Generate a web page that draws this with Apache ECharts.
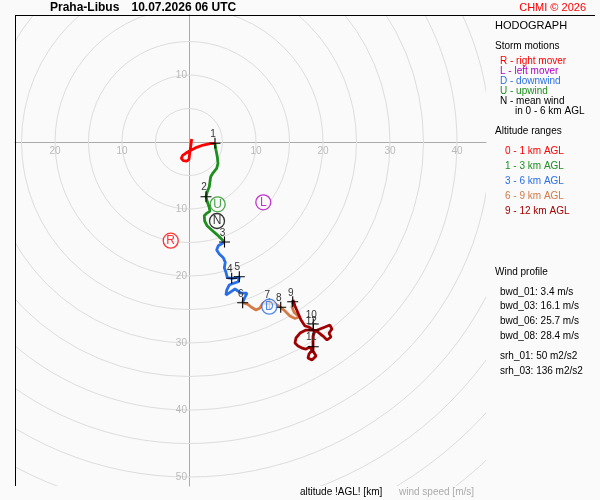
<!DOCTYPE html>
<html>
<head>
<meta charset="utf-8">
<script src="https://cdn.jsdelivr.net/npm/echarts@6/dist/echarts.min.js"></script>
<style>
html,body{margin:0;padding:0;background:#fafafa;}
#chart{width:600px;height:500px;}
</style>
</head>
<body>
<div id="chart"></div>
<script>
// ---- data (u, v in m/s; v positive = up) ----
const ringRadii = [5,10,15,20,25,30,35,40,45,50,55,60,65,70];
const xTickValues = [-20,-10,10,20,30,40];
const yTickValues = [10,-10,-20,-30,-40,-50];

const trace0to1 = [[0.40,0.45],[0.25,-0.70],[0.10,-1.69],[0.00,-2.58],[-0.34,-2.84],[-0.85,-2.79],[-1.15,-2.43],[-0.94,-1.99],[-0.45,-1.64],[0.15,-1.30],[1.15,-0.79],[2.13,-0.45],[3.13,-0.25],[3.88,-0.19]];
const trace1to3 = [[3.88,-0.19],[4.03,-1.19],[4.22,-2.19],[4.33,-3.18],[4.13,-3.93],[3.54,-4.67],[3.24,-5.18],[3.13,-5.93],[3.03,-6.67],[2.73,-7.42],[2.54,-8.16],[2.73,-8.91],[2.99,-9.66],[3.13,-10.30],[2.64,-10.64],[2.28,-11.00],[2.34,-11.79],[2.73,-12.54],[3.39,-13.13],[4.13,-13.78],[5.30,-14.93]];
const trace3to6 = [[5.30,-14.93],[4.37,-15.48],[4.13,-16.12],[4.52,-16.72],[5.12,-17.27],[5.42,-17.96],[5.27,-18.76],[5.52,-19.45],[5.72,-20.25],[6.37,-20.34],[7.12,-20.25],[7.51,-20.10],[7.36,-20.85],[6.61,-21.09],[6.01,-21.34],[5.63,-22.09],[5.52,-22.84],[6.12,-22.43],[6.87,-21.94],[7.76,-22.54],[8.66,-22.54],[8.21,-23.43],[8.01,-23.99]];
const trace6to9 = [[8.01,-23.99],[8.81,-24.25],[9.40,-24.70],[10.00,-25.07],[10.60,-24.78],[11.04,-24.03],[11.79,-23.73],[12.54,-23.88],[13.13,-24.33],[13.69,-24.67],[14.33,-25.22],[15.07,-25.97],[15.82,-26.34],[16.42,-26.12],[15.67,-25.37],[15.37,-24.63],[15.48,-24.22]];
const trace9to12 = [[15.48,-24.22],[15.52,-23.58],[15.82,-24.48],[16.27,-25.52],[16.72,-26.57],[17.31,-27.46],[17.91,-27.61],[18.51,-28.06],[17.46,-28.06],[16.57,-28.51],[15.97,-29.25],[15.82,-30.00],[16.27,-30.45],[16.87,-30.75],[17.46,-30.90],[18.06,-30.60],[18.36,-31.04],[17.91,-31.64],[17.76,-32.24],[18.36,-32.54],[18.96,-31.94],[18.51,-31.19],[18.51,-30.15],[18.51,-28.96],[18.81,-28.21],[19.55,-27.91],[20.30,-27.61],[21.04,-27.31],[21.34,-27.91],[20.90,-28.51],[21.19,-29.10],[20.60,-29.55],[20.00,-28.96],[19.25,-28.36],[18.55,-28.06]];

const kmLabels = ['1','2','3','4','5','6','7','8','9','10','11','12'];
const kmU = [3.88,2.54,5.30,6.37,7.51,8.01,11.99,13.69,15.48,18.55,18.55,18.55];
const kmV = [-0.19,-8.16,-14.93,-20.34,-20.10,-23.99,-24.18,-24.67,-23.84,-27.16,-30.55,-28.06];

const stormLetters = ['R','L','U','N','D'];
const stormU = [-2.73,11.09,4.28,4.18,11.99];
const stormV = [-14.73,-9.00,-9.30,-11.79,-24.58];

const colors = {
  c01:'#ff0000', c13:'#1e8f1e', c36:'#2a6fe6', c69:'#d37a46', c912:'#a00000',
  R:'#ff0000', L:'#b300c4', D:'#2a6fe6', U:'#1e8f1e', N:'#000000'
};

// ---- chart ----
const chart = echarts.init(document.getElementById('chart'));
const FONT = '"Liberation Sans", Arial, sans-serif';

function traceSeries(data, color){
  return {type:'line', data:data, showSymbol:false, symbol:'none',
    lineStyle:{color:color, width:2.8}, z:3, silent:true, animation:false};
}

function txt(x, y, text, color, size, weight, align){
  return {type:'text', x:x, y:y, silent:true, style:{text:text, fill:color||'#000',
    font:(weight||'normal')+' '+(size||10)+'px '+FONT, textVerticalAlign:'middle', textAlign:align||'left'}};
}

const tickLabelStyle = {show:true, color:'#aaaaaa', fontSize:10, fontFamily:FONT,
  formatter:p=>String(Math.abs(p.value[0]||p.value[1]))};

const option = {
  animation:false,
  backgroundColor:'#fafafa',
  grid:{left:15, top:15, width:471, height:471, containLabel:false},
  xAxis:{type:'value', min:-25.97, max:44.33,
    axisLine:{show:true, onZero:true, lineStyle:{color:'#aaaaaa', width:1}},
    axisTick:{show:false}, splitLine:{show:false}, axisLabel:{show:false}},
  yAxis:{type:'value', min:-51.34, max:18.96,
    axisLine:{show:true, onZero:true, lineStyle:{color:'#aaaaaa', width:1}},
    axisTick:{show:false}, splitLine:{show:false}, axisLabel:{show:false}},
  series:[
    {type:'custom', clip:true, silent:true, z:1,
      data:ringRadii.map(r=>[r,0]),
      renderItem:function(params, api){
        const c = api.coord([0,0]);
        const r = api.size([api.value(0),0])[0];
        const cs = params.coordSys;
        return {type:'group', clipPath:{type:'rect', shape:{x:cs.x+1, y:cs.y+1, width:cs.width-1, height:cs.height-1}},
          children:[{type:'circle', shape:{cx:c[0], cy:c[1], r:r},
            style:{fill:null, stroke:'#dddddd', lineWidth:1}}]};
      }},
    // tick labels on the horizontal axis
    {type:'scatter', silent:true, z:2, symbolSize:0.1, itemStyle:{color:'rgba(0,0,0,0)'},
      data:xTickValues.map(v=>[v,0]),
      label:Object.assign({}, tickLabelStyle, {position:'inside', offset:[0,9]})},
    // tick labels on the vertical axis
    {type:'scatter', silent:true, z:2, symbolSize:0.1, itemStyle:{color:'rgba(0,0,0,0)'},
      data:yTickValues.map(v=>[0,v]),
      label:Object.assign({}, tickLabelStyle, {position:'left', distance:2})},
    traceSeries(trace0to1, colors.c01),
    traceSeries(trace1to3, colors.c13),
    traceSeries(trace3to6, colors.c36),
    traceSeries(trace6to9, colors.c69),
    traceSeries(trace9to12, colors.c912),
    {type:'scatter', z:5, silent:true,
      symbol:'path://M0,4.5H10V5.5H0Z M4.5,0H5.5V10H4.5Z', symbolSize:11,
      itemStyle:{color:'#000', opacity:1},
      data:kmLabels.map((l,i)=>({value:[kmU[i],kmV[i]], name:l})),
      label:{show:true, formatter:p=>p.name, position:'inside', offset:[-2,-9],
        color:'#333', fontSize:10, fontFamily:FONT}},
    {type:'scatter', z:6, silent:true, symbol:'circle', symbolSize:15,
      data:stormLetters.map((l,i)=>({value:[stormU[i],stormV[i]], name:l,
        itemStyle:{color:'#fafafa', borderColor:colors[l], borderWidth:1.3},
        label:{color:colors[l]}})),
      label:{show:true, position:'inside', formatter:p=>p.name, fontSize:12, fontFamily:FONT}}
  ],
  graphic:[
    {type:'line', silent:true, z:100, shape:{x1:15, y1:15.5, x2:595, y2:15.5}, style:{stroke:'#000', lineWidth:1}},
    {type:'line', silent:true, z:100, shape:{x1:15.5, y1:15, x2:15.5, y2:486}, style:{stroke:'#000', lineWidth:1}},
    txt(50, 7.5, 'Praha-Libus', '#000', 12, 'bold'),
    txt(131.5, 7.5, '10.07.2026 06 UTC', '#000', 12, 'bold'),
    txt(586, 7.5, 'CHMI \u00a9 2026', '#ff0000', 11, 'normal', 'right'),
    txt(495, 26, 'HODOGRAPH', '#000', 11),
    txt(495, 46.7, 'Storm motions', '#000', 10),
    txt(500, 61.7, 'R - right mover', colors.R, 10),
    txt(500, 71.7, 'L - left mover', colors.L, 10),
    txt(500, 81.7, 'D - downwind', colors.D, 10),
    txt(500, 91.7, 'U - upwind', colors.U, 10),
    txt(500, 101.7, 'N - mean wind', '#000', 10),
    txt(515, 111.7, 'in 0 - 6 km AGL', '#000', 10),
    txt(495, 131.7, 'Altitude ranges', '#000', 10),
    txt(505, 151.7, '0 - 1 km AGL', colors.c01, 10),
    txt(505, 166.7, '1 - 3 km AGL', colors.c13, 10),
    txt(505, 181.7, '3 - 6 km AGL', colors.c36, 10),
    txt(505, 196.7, '6 - 9 km AGL', colors.c69, 10),
    txt(505, 211.7, '9 - 12 km AGL', colors.c912, 10),
    txt(495, 272.3, 'Wind profile', '#000', 10),
    txt(500, 292.3, 'bwd_01: 3.4 m/s', '#000', 10),
    txt(500, 306.7, 'bwd_03: 16.1 m/s', '#000', 10),
    txt(500, 321.7, 'bwd_06: 25.7 m/s', '#000', 10),
    txt(500, 336.7, 'bwd_08: 28.4 m/s', '#000', 10),
    txt(500, 356.7, 'srh_01: 50 m2/s2', '#000', 10),
    txt(500, 371.7, 'srh_03: 136 m2/s2', '#000', 10),
    txt(300, 492.3, 'altitude !AGL! [km]', '#000', 10),
    txt(399, 492, 'wind speed [m/s]', '#aaaaaa', 10)
  ]
};
chart.setOption(option);
</script>
</body>
</html>
